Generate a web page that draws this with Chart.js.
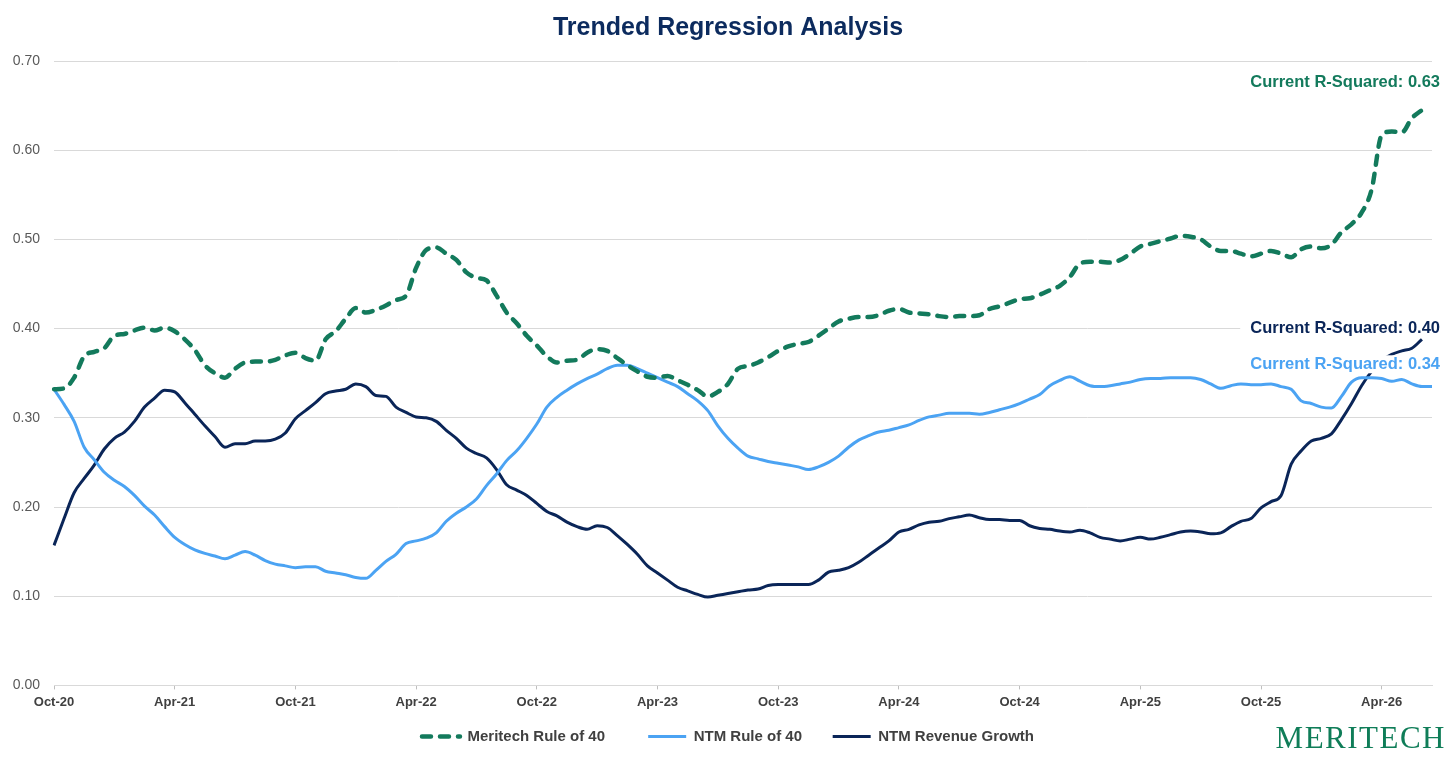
<!DOCTYPE html>
<html>
<head>
<meta charset="utf-8">
<title>Trended Regression Analysis</title>
<script src="https://cdn.jsdelivr.net/npm/chart.js@4.4.1/dist/chart.umd.min.js"></script>
<style>
  html, body { margin: 0; padding: 0; background: #fff; }
  #wrap { position: relative; width: 1456px; height: 759px; }
  #logo {
    position: absolute; right: 10px; top: 722px;
    font-family: 'Liberation Serif', 'Times New Roman', serif;
    font-size: 31px; line-height: 1; color: #0F7D58; letter-spacing: 1.5px;
  }
</style>
</head>
<body>
<div id="wrap">
  <canvas id="chart"></canvas>
  <div id="logo">MERITECH</div>
</div>
<script>
// x axis: half-month steps from Oct-20 to mid Jun-26
const tickLabels = ['Oct-20', 'Apr-21', 'Oct-21', 'Apr-22', 'Oct-22', 'Apr-23',
                    'Oct-23', 'Apr-24', 'Oct-24', 'Apr-25', 'Oct-25', 'Apr-26'];
const monthNames = ['Jan', 'Feb', 'Mar', 'Apr', 'May', 'Jun', 'Jul', 'Aug', 'Sep', 'Oct', 'Nov', 'Dec'];
const categories = [];
for (let m = 0; m < 69; m++) {
    const mi = (9 + m) % 12;
    const yy = 20 + Math.floor((9 + m) / 12);
    const lbl = monthNames[mi] + '-' + yy;
    categories.push(lbl);
    categories.push(lbl + ' (mid)');
}

// R-squared series (one value per half month)
const meritechRule40 = [
    0.332, 0.333, 0.345, 0.369, 0.374, 0.378, 0.392, 0.394, 0.398, 0.401,
    0.398, 0.401, 0.397, 0.388, 0.376, 0.359, 0.350, 0.345, 0.355, 0.362,
    0.363, 0.363, 0.365, 0.370, 0.373, 0.367, 0.364, 0.388, 0.397, 0.411,
    0.423, 0.418, 0.421, 0.426, 0.432, 0.437, 0.468, 0.488, 0.491, 0.484,
    0.477, 0.463, 0.457, 0.454, 0.437, 0.418, 0.406, 0.392, 0.381, 0.369,
    0.362, 0.364, 0.365, 0.373, 0.377, 0.375, 0.367, 0.359, 0.352, 0.346,
    0.345, 0.347, 0.342, 0.337, 0.331, 0.324, 0.329, 0.338, 0.355, 0.358,
    0.362, 0.368, 0.375, 0.380, 0.383, 0.385, 0.392, 0.400, 0.408, 0.411,
    0.413, 0.413, 0.415, 0.420, 0.422, 0.418, 0.417, 0.416, 0.414, 0.413,
    0.414, 0.414, 0.415, 0.422, 0.425, 0.429, 0.433, 0.434, 0.438, 0.443,
    0.448, 0.458, 0.473, 0.475, 0.475, 0.474, 0.477, 0.484, 0.492, 0.495,
    0.498, 0.501, 0.504, 0.503, 0.500, 0.492, 0.487, 0.487, 0.484, 0.481,
    0.484, 0.487, 0.484, 0.480, 0.489, 0.492, 0.490, 0.494, 0.508, 0.517,
    0.530, 0.556, 0.617, 0.621, 0.620, 0.636, 0.645
];
const ntmRule40 = [
    0.332, 0.315, 0.296, 0.267, 0.253, 0.239, 0.230, 0.223, 0.213, 0.201,
    0.191, 0.178, 0.166, 0.158, 0.152, 0.148, 0.145, 0.142, 0.146, 0.150,
    0.146, 0.140, 0.136, 0.134, 0.132, 0.133, 0.133, 0.128, 0.126, 0.124,
    0.121, 0.120, 0.129, 0.139, 0.147, 0.159, 0.162, 0.165, 0.171, 0.184,
    0.193, 0.200, 0.209, 0.224, 0.237, 0.252, 0.263, 0.277, 0.293, 0.312,
    0.323, 0.331, 0.338, 0.344, 0.349, 0.355, 0.359, 0.359, 0.355, 0.350,
    0.345, 0.340, 0.335, 0.327, 0.319, 0.308, 0.291, 0.277, 0.266, 0.257,
    0.254, 0.251, 0.249, 0.247, 0.245, 0.242, 0.245, 0.250, 0.257, 0.267,
    0.275, 0.280, 0.284, 0.286, 0.289, 0.292, 0.297, 0.301, 0.303, 0.305,
    0.305, 0.305, 0.304, 0.306, 0.309, 0.312, 0.316, 0.321, 0.326, 0.336,
    0.342, 0.346, 0.341, 0.336, 0.335, 0.336, 0.338, 0.340, 0.343, 0.344,
    0.344, 0.345, 0.345, 0.345, 0.343, 0.338, 0.333, 0.336, 0.338, 0.337,
    0.337, 0.338, 0.335, 0.332, 0.319, 0.316, 0.312, 0.311, 0.324, 0.340,
    0.345, 0.345, 0.344, 0.341, 0.343, 0.338, 0.335, 0.335
];
const ntmRevenueGrowth = [
    0.157, 0.187, 0.216, 0.232, 0.247, 0.265, 0.277, 0.284, 0.296, 0.312,
    0.322, 0.331, 0.329, 0.317, 0.304, 0.291, 0.279, 0.267, 0.271, 0.271,
    0.274, 0.274, 0.276, 0.283, 0.299, 0.308, 0.317, 0.327, 0.330, 0.332,
    0.338, 0.335, 0.325, 0.324, 0.312, 0.306, 0.301, 0.300, 0.296, 0.286,
    0.277, 0.266, 0.260, 0.255, 0.242, 0.225, 0.219, 0.213, 0.204, 0.195,
    0.190, 0.183, 0.178, 0.175, 0.179, 0.177, 0.168, 0.158, 0.147, 0.134,
    0.126, 0.118, 0.110, 0.106, 0.102, 0.099, 0.101, 0.103, 0.105, 0.107,
    0.108, 0.112, 0.113, 0.113, 0.113, 0.113, 0.118, 0.127, 0.129, 0.132,
    0.138, 0.146, 0.154, 0.162, 0.172, 0.175, 0.180, 0.183, 0.184, 0.187,
    0.189, 0.191, 0.188, 0.186, 0.186, 0.185, 0.185, 0.179, 0.176, 0.175,
    0.173, 0.172, 0.174, 0.171, 0.166, 0.164, 0.162, 0.164, 0.166, 0.164,
    0.166, 0.169, 0.172, 0.173, 0.172, 0.170, 0.171, 0.178, 0.184, 0.187,
    0.199, 0.206, 0.213, 0.248, 0.263, 0.274, 0.277, 0.282, 0.298, 0.316,
    0.336, 0.352, 0.364, 0.371, 0.375, 0.378, 0.388
];

// end-of-line callouts
const calloutTexts = ['Current R-Squared: 0.63', 'Current R-Squared: 0.40', 'Current R-Squared: 0.34'];
const calloutLevels = [0.676, 0.40, 0.36];

const GREEN = '#137A5C';
const LIGHT_BLUE = '#4BA3F3';
const NAVY = '#0A2558';
const calloutColors = [GREEN, NAVY, LIGHT_BLUE];

// extra spaces after legend texts to widen the gaps between entries
const legendGaps = [7, 4, 0];

Chart.defaults.font.family = "'Liberation Sans', Arial, sans-serif";

// draws the "Current R-Squared" labels on a white patch over the lines
const calloutPlugin = {
    id: 'callouts',
    afterDatasetsDraw(chart) {
        const ctx = chart.ctx;
        const yScale = chart.scales.y;
        const right = chart.chartArea.right + 8;
        ctx.save();
        ctx.font = "bold 16.5px 'Liberation Sans', Arial, sans-serif";
        ctx.textAlign = 'right';
        ctx.textBaseline = 'middle';
        calloutTexts.forEach((txt, k) => {
            const y = yScale.getPixelForValue(calloutLevels[k]);
            const w = ctx.measureText(txt).width;
            ctx.fillStyle = '#fff';
            ctx.fillRect(right - w - 10, y - 9, w + 10, 18);
            ctx.fillStyle = calloutColors[k];
            ctx.fillText(txt, right, y);
        });
        ctx.restore();
    }
};

// title and legend are centred on the whole page, not on the area left of the right padding
const centerPlugin = {
    id: 'centerBlocks',
    afterLayout(chart) {
        const shift = chart.options.layout.padding.right / 2;
        [chart.titleBlock, chart.legend].forEach((box) => {
            if (box) { box.left += shift; box.right += shift; }
        });
    }
};

new Chart(document.getElementById('chart'), {
    type: 'line',
    data: {
        labels: categories,
        datasets: [
            {
                label: 'Meritech Rule of 40',
                data: meritechRule40,
                borderColor: GREEN,
                backgroundColor: GREEN,
                borderWidth: 4.5,
                borderDash: [9, 9],
                borderCapStyle: 'round',
                pointRadius: 0,
                cubicInterpolationMode: 'monotone',
            },
            {
                label: 'NTM Rule of 40',
                data: ntmRule40,
                borderColor: LIGHT_BLUE,
                backgroundColor: LIGHT_BLUE,
                borderWidth: 3,
                pointRadius: 0,
                cubicInterpolationMode: 'monotone',
            },
            {
                label: 'NTM Revenue Growth',
                data: ntmRevenueGrowth,
                borderColor: NAVY,
                backgroundColor: NAVY,
                borderWidth: 3,
                pointRadius: 0,
                cubicInterpolationMode: 'monotone',
            },
        ],
    },
    options: {
        responsive: true,
        maintainAspectRatio: false,
        animation: false,
        layout: { padding: { left: 0, right: 24, top: 0, bottom: 5 } },
        plugins: {
            title: {
                display: true,
                text: 'Trended Regression Analysis',
                color: '#0C2B5E',
                font: { size: 25, weight: 'bold' },
                padding: { top: 13, bottom: 18 },
            },
            legend: {
                position: 'bottom',
                labels: {
                    usePointStyle: true,
                    pointStyle: 'line',
                    pointStyleWidth: 38,
                    padding: 14,
                    color: '#404040',
                    font: { size: 15, weight: 'bold' },
                    generateLabels: (chart) => {
                        const items = Chart.defaults.plugins.legend.labels.generateLabels(chart);
                        items.forEach((it, k) => {
                            const ds = chart.data.datasets[it.datasetIndex];
                            it.lineDash = ds.borderDash || [];
                            it.lineCap = ds.borderCapStyle || 'butt';
                            it.lineWidth = ds.borderWidth;
                            it.strokeStyle = ds.borderColor;
                            it.text += ' '.repeat(legendGaps[k] || 0);
                        });
                        return items;
                    },
                },
            },
            tooltip: { enabled: false },
        },
        scales: {
            x: {
                type: 'category',
                offset: false,
                grid: { drawOnChartArea: false, drawTicks: true, tickLength: 4, color: '#BFBFBF' },
                border: { color: '#D9D9D9' },
                ticks: {
                    autoSkip: false,
                    maxRotation: 0,
                    padding: 5,
                    color: '#404040',
                    font: { size: 13, weight: 'bold' },
                    callback: (v, i) => (i % 2 === 0 && tickLabels.includes(categories[i])) ? categories[i] : null,
                },
            },
            y: {
                min: 0,
                max: 0.7,
                ticks: {
                    stepSize: 0.1,
                    padding: 14,
                    color: '#595959',
                    font: { size: 14 },
                    callback: (v) => v.toFixed(2),
                },
                grid: { color: '#D9D9D9', drawTicks: false },
                border: { display: false },
                afterFit: (scale) => { scale.width = 54; },
            },
        },
    },
    plugins: [calloutPlugin, centerPlugin],
});
</script>
</body>
</html>
